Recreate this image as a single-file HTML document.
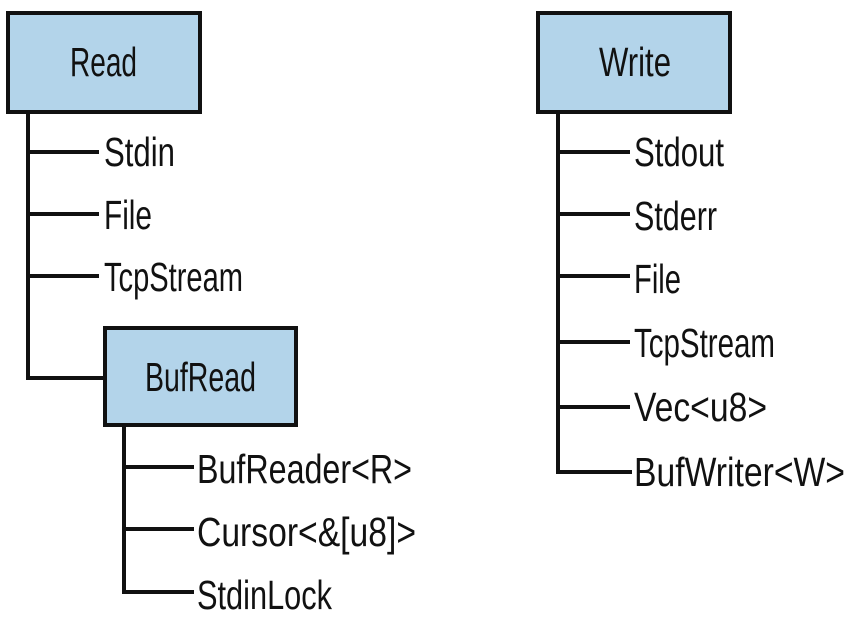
<!DOCTYPE html>
<html><head><meta charset="utf-8"><style>
html,body{margin:0;padding:0;background:#fff;width:860px;height:619px;overflow:hidden}
svg text{font-family:"Liberation Sans",sans-serif;font-size:41px;fill:#111}
</style></head><body>
<svg width="860" height="619" viewBox="0 0 860 619" xmlns="http://www.w3.org/2000/svg">
<g stroke="#111" stroke-width="4" fill="none" stroke-linecap="square">
<path d="M28 113 V378 H103"/>
<path d="M28 152 H97 M28 214 H97 M28 276 H97"/>
<path d="M124 426 V592 H192"/>
<path d="M124 467 H192 M124 529 H192"/>
<path d="M558 113 V472 H630"/>
<path d="M558 152 H628 M558 214 H628 M558 276 H628 M558 342 H628 M558 407 H628"/>
</g>
<g fill="#b3d4ea" stroke="#111" stroke-width="4">
<rect x="8" y="13" width="192" height="99"/>
<rect x="538" y="13" width="192" height="99"/>
<rect x="105" y="328" width="191" height="97"/>
</g>
<text x="70" y="76" textLength="67" lengthAdjust="spacingAndGlyphs">Read</text>
<text x="599" y="76" textLength="72" lengthAdjust="spacingAndGlyphs">Write</text>
<text x="145" y="391" textLength="111" lengthAdjust="spacingAndGlyphs">BufRead</text>

<text x="104" y="166" textLength="71" lengthAdjust="spacingAndGlyphs">Stdin</text>
<text x="104" y="229" textLength="48" lengthAdjust="spacingAndGlyphs">File</text>
<text x="104" y="291" textLength="139" lengthAdjust="spacingAndGlyphs">TcpStream</text>

<text x="197" y="483" textLength="215" lengthAdjust="spacingAndGlyphs">BufReader&lt;R&gt;</text>
<text x="197" y="546" textLength="219" lengthAdjust="spacingAndGlyphs">Cursor&lt;&amp;[u8]&gt;</text>
<text x="197" y="609" textLength="135" lengthAdjust="spacingAndGlyphs">StdinLock</text>

<text x="634" y="166" textLength="90" lengthAdjust="spacingAndGlyphs">Stdout</text>
<text x="634" y="230" textLength="83" lengthAdjust="spacingAndGlyphs">Stderr</text>
<text x="634" y="293" textLength="47" lengthAdjust="spacingAndGlyphs">File</text>
<text x="634" y="357" textLength="141" lengthAdjust="spacingAndGlyphs">TcpStream</text>
<text x="634" y="421" textLength="133" lengthAdjust="spacingAndGlyphs">Vec&lt;u8&gt;</text>
<text x="634" y="486" textLength="211" lengthAdjust="spacingAndGlyphs">BufWriter&lt;W&gt;</text>
</svg>
</body></html>
